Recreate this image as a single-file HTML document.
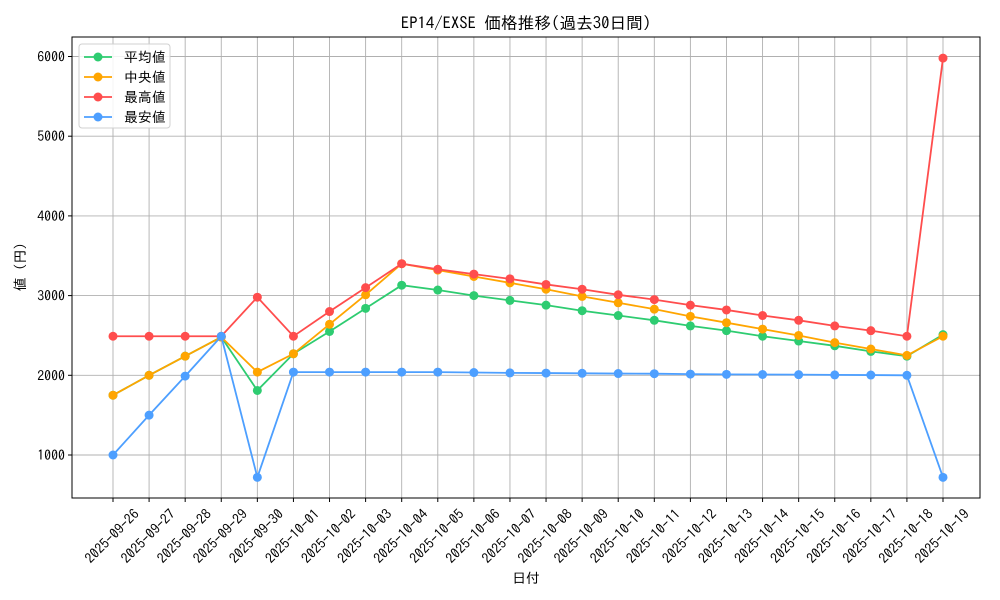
<!DOCTYPE html>
<html><head><meta charset="utf-8">
<style>
html,body{margin:0;padding:0;background:#fff;}
svg{display:block;font-family:"IPAGothic","Noto Sans CJK JP",sans-serif;}
</style></head>
<body>
<svg id="c" width="1000" height="600" xmlns="http://www.w3.org/2000/svg"></svg>
<script>
const s=document.getElementById('c');
const L=72,T=37,R=980,B=498;
const X=i=>113+i*(943-113)/23;
const Y=v=>455-(v-1000)*0.0797;
let h='';
h+='<rect x="0" y="0" width="1000" height="600" fill="#fff"/>';
const dates=[];
for(let d=26;d<=30;d++)dates.push('2025-09-'+d);
for(let d=1;d<=19;d++)dates.push('2025-10-'+(d<10?'0'+d:d));
for(let i=0;i<24;i++){const x=X(i);h+=`<line x1="${x}" y1="${T}" x2="${x}" y2="${B}" stroke="#b0b0b0" stroke-width="0.9"/>`;}
for(let v=1000;v<=6000;v+=1000){const y=Y(v);h+=`<line x1="${L}" y1="${y}" x2="${R}" y2="${y}" stroke="#b0b0b0" stroke-width="0.9"/>`;
h+=`<line x1="${L-4}" y1="${y}" x2="${L}" y2="${y}" stroke="#000"/>`;
h+=`<text x="${L-7}" y="${y+5}" font-size="13.9" text-anchor="end">${v}</text>`;}
for(let i=0;i<24;i++){const x=X(i);h+=`<line x1="${x}" y1="${B}" x2="${x}" y2="${B+4}" stroke="#000"/>`;
h+=`<text transform="translate(${x+27},${B+17}) rotate(-45)" font-size="13.9" text-anchor="end">${dates[i]}</text>`;}
const series=[
["#2ecc71",[1750,2000,2240,2480,1810,2270,2550,2840,3130,3070,3000,2940,2880,2810,2750,2690,2620,2560,2490,2430,2370,2300,2240,2510]],
["#ffa500",[1750,2000,2240,2480,2040,2270,2640,3010,3400,3320,3240,3160,3080,2990,2910,2830,2740,2660,2580,2500,2410,2330,2250,2490]],
["#ff4d4d",[2490,2490,2490,2490,2980,2490,2800,3100,3400,3330,3270,3210,3140,3080,3010,2950,2880,2820,2750,2690,2620,2560,2490,5980]],
["#4d9fff",[1000,1500,1990,2490,720,2040,2040,2040,2040,2040,2035,2030,2028,2025,2022,2020,2015,2012,2010,2008,2005,2003,2000,720]]];
for(const [c,d] of series){
h+=`<polyline fill="none" stroke="${c}" stroke-width="1.8" points="${d.map((v,i)=>X(i)+','+Y(v)).join(' ')}"/>`;
for(let i=0;i<d.length;i++)h+=`<circle cx="${X(i)}" cy="${Y(d[i])}" r="4.5" fill="${c}"/>`;}
h+=`<rect x="${L}" y="${T}" width="${R-L}" height="${B-T}" fill="none" stroke="#000" stroke-width="1"/>`;
h+=`<rect x="79" y="44" width="91" height="84" rx="3" fill="#fff" fill-opacity="0.85" stroke="#d0d0d0"/>`;
const names=["平均値","中央値","最高値","最安値"];
for(let k=0;k<4;k++){const y=57+k*20;const c=series[k][0];
h+=`<line x1="84" y1="${y}" x2="112" y2="${y}" stroke="${c}" stroke-width="1.8"/><circle cx="98" cy="${y}" r="4.5" fill="${c}"/>`;
h+=`<text x="124" y="${y+5}" font-size="13.9">${names[k]}</text>`;}
h+=`<text x="526" y="29" font-size="16.7" text-anchor="middle">EP14/EXSE 価格推移(過去30日間)</text>`;
h+=`<text x="526" y="583" font-size="13.9" text-anchor="middle">日付</text>`;
h+=`<text transform="translate(25,267) rotate(-90)" font-size="13.9" text-anchor="middle">値 (円)</text>`;
s.innerHTML=h;
</script>
</body></html>
